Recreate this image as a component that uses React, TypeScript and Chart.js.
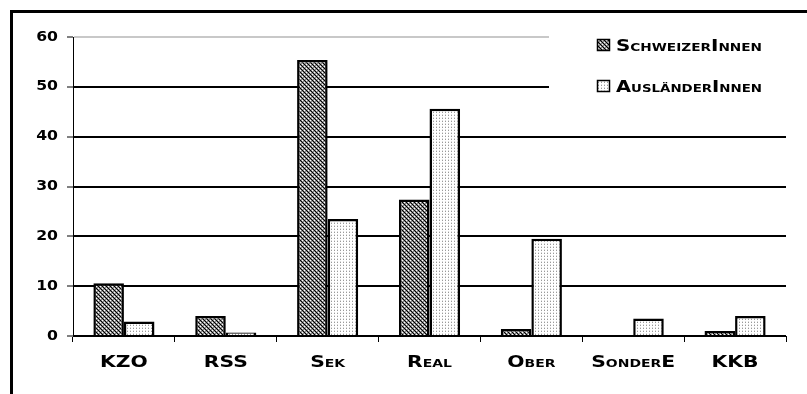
import React, { useEffect, useRef } from "react";
import { Chart, registerables } from "chart.js";

Chart.register(...registerables);

const categories = ["KZO", "RSS", "Sek", "Real", "Ober", "SonderE", "KKB"];
const schweizerValues = [10.6, 4.0, 55.4, 27.4, 1.4, 0, 1.0];
const auslaenderValues = [2.9, 0.7, 23.5, 45.6, 19.5, 3.5, 4.0];
const seriesNames = ["SchweizerInnen", "AusländerInnen"];
const yTicks = [0, 10, 20, 30, 40, 50, 60];

const FAMILY = "'DejaVu Sans', sans-serif";

function makePattern(kind: "dark" | "light"): CanvasPattern | string {
  const c = document.createElement("canvas");
  const size = kind === "dark" ? 4 : 3;
  c.width = size;
  c.height = size;
  const g = c.getContext("2d");
  if (!g) return kind === "dark" ? "#777" : "#eee";
  if (kind === "dark") {
    g.fillStyle = "#8c8c8c";
    g.fillRect(0, 0, 4, 4);
    g.fillStyle = "#000";
    g.fillRect(0, 0, 1, 1);
    g.fillRect(2, 2, 1, 1);
    g.fillRect(1, 1, 1, 1);
    g.fillRect(3, 3, 1, 1);
    g.fillStyle = "#fff";
    g.fillRect(2, 0, 1, 1);
    g.fillRect(0, 2, 1, 1);
  } else {
    g.fillStyle = "#fff";
    g.fillRect(0, 0, 3, 3);
    g.fillStyle = "#9a9a9a";
    g.fillRect(1, 1, 1, 1);
    g.fillStyle = "#dcdcdc";
    g.fillRect(1, 0, 1, 1);
  }
  const p = g.createPattern(c, "repeat");
  return p || (kind === "dark" ? "#777" : "#eee");
}

export default function App() {
  const ref = useRef<HTMLCanvasElement | null>(null);

  useEffect(() => {
    if (!ref.current) return;
    const dark = makePattern("dark");
    const light = makePattern("light");
    const fills = [dark, light];
    const state: { sx: number | null } = { sx: null };

    const widenPlugin = {
      id: "widenText",
      beforeInit(chart: any) {
        const ctx = chart.ctx as any;
        if (ctx.__widened) return;
        ctx.__widened = true;
        const orig = ctx.fillText.bind(ctx);
        ctx.fillText = (t: string, x: number, y: number) => {
          const sx = state.sx != null ? state.sx : String(ctx.font).indexOf("small-caps") >= 0 ? 1.27 : 1.12;
          ctx.save();
          ctx.translate(x, y);
          ctx.scale(sx, 1);
          orig(t, 0, 0);
          ctx.restore();
        };
      },
    };

    const framePlugin = {
      id: "frameAndLegend",
      beforeDraw(chart: any) {
        const ctx = chart.ctx;
        state.sx = null;
        ctx.save();
        ctx.fillStyle = "#fff";
        ctx.fillRect(0, 0, chart.width, chart.height);
        ctx.restore();
      },
      afterDraw(chart: any) {
        const ctx = chart.ctx;
        ctx.save();
        // outer frame (top and left visible)
        ctx.fillStyle = "#000";
        ctx.fillRect(10, 10, chart.width - 10, 3);
        ctx.fillRect(10, 10, 3, chart.height - 10);
        // legend box
        ctx.fillStyle = "#fff";
        ctx.fillRect(549, 30, 240, 66);
        const rows = [39, 80];
        rows.forEach((y, i) => {
          ctx.fillStyle = fills[i] as any;
          ctx.fillRect(597, y, 13, 12);
          ctx.strokeStyle = "#000";
          ctx.lineWidth = 1.5;
          ctx.strokeRect(597.5, y + 0.5, 12, 11);
          ctx.fillStyle = "#000";
          ctx.font = `small-caps bold 16px ${FAMILY}`;
          ctx.textBaseline = "alphabetic";
          ctx.textAlign = "left";
          const w = ctx.measureText(seriesNames[i]).width;
          state.sx = 146 / w;
          ctx.fillText(seriesNames[i], 616, y + 12);
        });
        state.sx = null;
        ctx.restore();
      },
    };

    const chart = new Chart(ref.current, {
      type: "bar",
      data: {
        labels: categories,
        datasets: [
          {
            label: seriesNames[0],
            data: schweizerValues,
            backgroundColor: dark as any,
            borderColor: "#000",
            borderWidth: 2.5,
            categoryPercentage: 0.6,
            barPercentage: 1,
          },
          {
            label: seriesNames[1],
            data: auslaenderValues,
            backgroundColor: light as any,
            borderColor: "#000",
            borderWidth: 2.5,
            categoryPercentage: 0.6,
            barPercentage: 1,
          },
        ],
      },
      options: {
        animation: false,
        responsive: false,
        maintainAspectRatio: false,
        layout: { padding: { left: 0, right: 21, top: 37, bottom: 0 } },
        plugins: {
          legend: { display: false },
          tooltip: { enabled: false },
        },
        scales: {
          x: {
            grid: {
              display: true,
              drawOnChartArea: false,
              drawTicks: true,
              tickLength: 6,
              tickColor: "#000",
              tickWidth: 1,
              offset: true,
            },
            border: { display: true, color: "#000", width: 1 },
            ticks: {
              color: "#000",
              font: { family: FAMILY, size: 16, weight: "small-caps bold" as any },
              padding: 11,
              maxRotation: 0,
              autoSkip: false,
            },
            afterFit: (s: any) => {
              s.height = 58;
            },
          },
          y: {
            min: 0,
            max: 60,
            afterBuildTicks: (s: any) => {
              s.ticks = yTicks.map((v) => ({ value: v }));
            },
            grid: {
              color: (c: any) => (c.tick && c.tick.value === 60 ? "#c8c8c8" : "#000"),
              lineWidth: 2,
              drawTicks: true,
              tickLength: 6,
              tickColor: "#000",
              tickWidth: 1,
            },
            border: { display: true, color: "#000", width: 1 },
            ticks: {
              color: "#000",
              font: { family: FAMILY, size: 14, weight: "bold" },
              padding: 9,
            },
            afterFit: (s: any) => {
              s.width = 73;
            },
          },
        },
      },
      plugins: [widenPlugin, framePlugin],
    });
    return () => chart.destroy();
  }, []);

  return (
    <div style={{ position: "fixed", left: 0, top: 0, width: 807, height: 394, background: "#fff" }}>
      <canvas ref={ref} width={807} height={394} style={{ display: "block", width: 807, height: 394 }} />
    </div>
  );
}
